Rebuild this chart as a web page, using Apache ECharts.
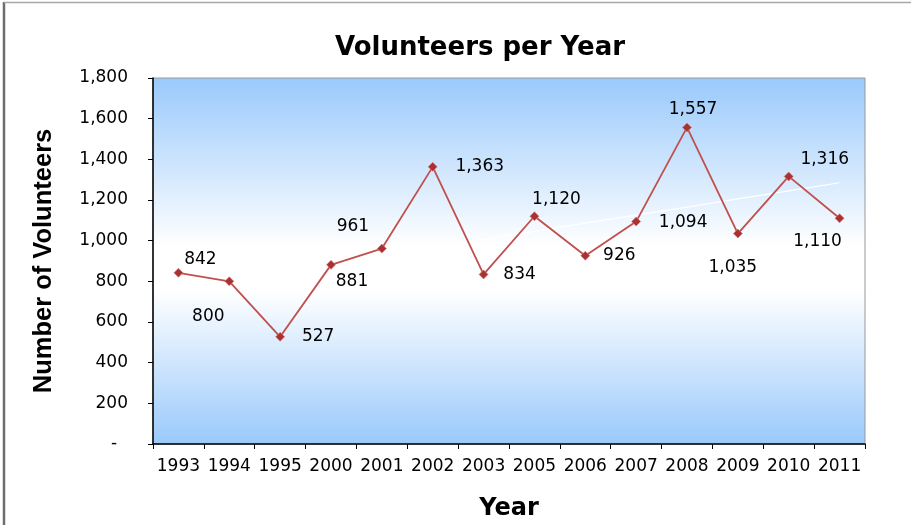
<!DOCTYPE html>
<html>
<head>
<meta charset="utf-8">
<script src="https://cdn.jsdelivr.net/npm/echarts@6/dist/echarts.min.js"></script>
<style>html,body{margin:0;padding:0;background:#fff}#c{width:911px;height:525px}</style>
</head>
<body>
<div id="c"></div>
<script>
var years = ['1993','1994','1995','2000','2001','2002','2003','2005','2006','2007','2008','2009','2010','2011'];
var volunteers = [842, 800, 527, 881, 961, 1363, 834, 1120, 926, 1094, 1557, 1035, 1316, 1110];
// label offsets (px) relative to each point, as placed in the reference
var labelOffsets = [[22,-13],[-21,35],[38,0],[21,17],[-29,-22],[47,0],[36,0],[22,-17],[34,0],[47,1],[6,-18],[-5,34],[36,-17],[-22,23]];

// linear trendline derived from the data
var n = volunteers.length, mx = (n-1)/2, my = volunteers.reduce(function(a,b){return a+b;},0)/n;
var sxy = 0, sxx = 0;
volunteers.forEach(function(v,i){ sxy += (i-mx)*(v-my); sxx += (i-mx)*(i-mx); });
var slope = sxy/sxx;
var trend = volunteers.map(function(v,i){ return my + slope*(i-mx); });

function fmt(v){ return v === 0 ? '-  ' : v.toLocaleString('en-US'); }

var chart = echarts.init(document.getElementById('c'), null, {renderer:'canvas'});
var WIDE = '"DejaVu Sans", sans-serif';
var NARROW = '"Liberation Sans", Arial, sans-serif';
chart.setOption({
  animation: false,
  textStyle: {fontFamily: WIDE},
  title: {
    text: 'Volunteers per Year', left: 475, top: 30, textAlign: 'center',
    textStyle: {fontSize: 26, fontWeight: 'bold', color: '#000', fontFamily: WIDE}
  },
  graphic: [
    {type:'line', shape:{x1:4, y1:2, x2:4, y2:525}, style:{stroke:'#6e6e6e', lineWidth:2.5}, z:100},
    {type:'line', shape:{x1:4, y1:2.5, x2:911, y2:2.5}, style:{stroke:'#a8a8a8', lineWidth:1.5}, z:100}
  ],
  grid: {
    left: 153, right: 46, top: 78, bottom: 81, show: true, borderColor: '#999', borderWidth: 1,
    outerBoundsMode: 'none', containLabel: false,
    backgroundColor: {type:'linear', x:0, y:0, x2:0, y2:1, colorStops:[
      {offset:0, color:'#99c9fb'}, {offset:0.46, color:'#ffffff'}, {offset:0.58, color:'#ffffff'}, {offset:1, color:'#99c9fb'}]}
  },
  xAxis: {
    type: 'category', data: years, boundaryGap: true,
    name: 'Year', nameLocation: 'middle', nameGap: 53,
    nameTextStyle: {fontSize: 24, fontWeight: 'bold', color: '#000', fontFamily: WIDE},
    axisLine: {lineStyle: {color: '#000', width: 1.5}},
    axisTick: {show: true, alignWithLabel: false, length: 5, lineStyle:{color:'#000'}},
    axisLabel: {fontSize: 17, color: '#000', margin: 14, interval: 0, fontFamily: WIDE}
  },
  yAxis: {
    type: 'value', min: 0, max: 1800, interval: 200,
    name: 'Number of Volunteers', nameLocation: 'middle', nameGap: 96, nameRotate: 90,
    nameTextStyle: {fontSize: 25.5, fontWeight: 'bold', color: '#000', fontFamily: NARROW},
    axisLine: {show: true, lineStyle: {color: '#000', width: 1.5}},
    axisTick: {show: true, length: 5, lineStyle:{color:'#000'}},
    splitLine: {show: false},
    axisLabel: {fontSize: 17, color: '#000', margin: 25, formatter: fmt, fontFamily: WIDE}
  },
  series: [
    {
      type: 'line', data: trend, symbol: 'none', silent: true, z: 1,
      lineStyle: {color: '#ffffff', width: 1.2}
    },
    {
      type: 'line', z: 3,
      data: volunteers.map(function(v,i){
        return {value: v, label: {offset: labelOffsets[i]}};
      }),
      symbol: 'diamond', symbolSize: 9,
      itemStyle: {color: '#a83232', borderColor: 'rgba(220,120,120,0.6)', borderWidth: 1},
      lineStyle: {color: '#c0504d', width: 1.8},
      label: {
        show: true, position: 'inside', align: 'center', verticalAlign: 'middle',
        fontSize: 17, color: '#000', fontFamily: WIDE,
        formatter: function(p){ return fmt(p.value); }
      }
    }
  ]
});
</script>
</body>
</html>
